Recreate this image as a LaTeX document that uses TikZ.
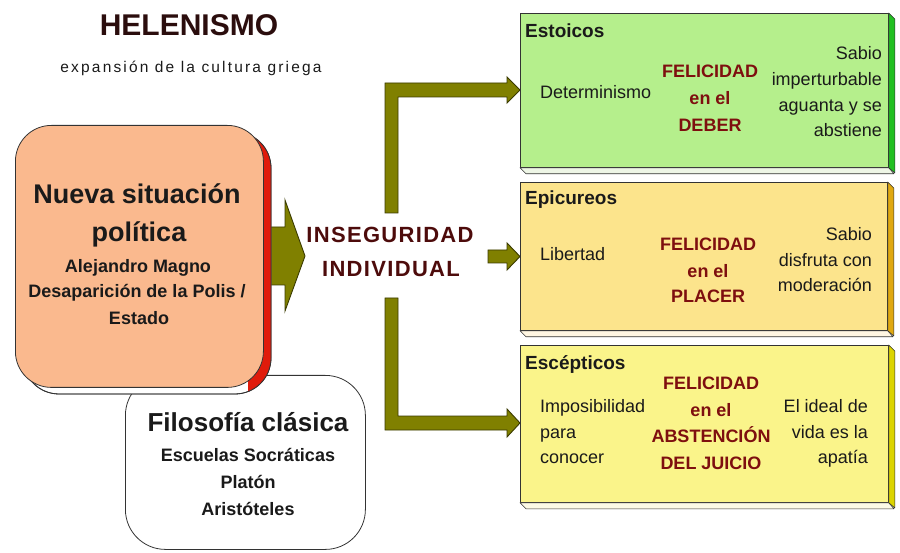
\documentclass[tikz,border=0pt]{standalone}
\usepackage{fontspec}
\setmainfont{Liberation Sans}
\newfontfamily\subfont[LetterSpace=14]{Liberation Sans}
\newfontfamily\insfont[LetterSpace=6]{Liberation Sans}
\definecolor{peach}{HTML}{FAB98E}
\definecolor{redside}{HTML}{E01B0B}
\definecolor{olivefill}{HTML}{808000}
\definecolor{olivedraw}{HTML}{3A3A00}
\definecolor{maroonink}{HTML}{4D0B0B}
\definecolor{titleink}{HTML}{2B0D0D}
\definecolor{felred}{HTML}{7E0F0F}
\definecolor{greenface}{HTML}{B5EF8C}
\definecolor{greenside}{HTML}{22C022}
\definecolor{greenbot}{HTML}{EEF6E6}
\definecolor{epiface}{HTML}{FCE48C}
\definecolor{episide}{HTML}{E0A810}
\definecolor{epibot}{HTML}{FFF6E2}
\definecolor{escface}{HTML}{FAF48A}
\definecolor{escside}{HTML}{DCD400}
\definecolor{escbot}{HTML}{FCFAE6}
\definecolor{edge}{HTML}{333333}
\definecolor{ink}{HTML}{1A1A1A}
\begin{document}
\begin{tikzpicture}[x=1pt,y=-1pt,
  lbl/.style={inner sep=0pt, anchor=base, text=ink},
  lblL/.style={lbl, anchor=base west},
  lblR/.style={lbl, anchor=base east},
  big/.style={font=\bfseries\fontsize{27}{30}\selectfont},
  mid/.style={font=\bfseries\fontsize{18}{21}\selectfont},
  head/.style={font=\bfseries\fontsize{19}{22}\selectfont},
  reg/.style={font=\fontsize{18}{21}\selectfont},
  fel/.style={lbl, text=felred, font=\bfseries\fontsize{18}{21}\selectfont},
  blockarrow/.style={fill=olivefill, draw=olivedraw, line width=0.9pt, line join=miter},
  face/.style={draw=edge, line width=0.8pt, inner sep=0pt, anchor=north west},
  slab/.style={draw=edge, line width=0.6pt, line join=round},
]
\useasboundingbox (0,0) rectangle (900,553);

% titles
\node[lbl, text=titleink, font=\bfseries\fontsize{30}{36}\selectfont] (hel) at (189,36) {HELENISMO};
\node[lbl, font=\subfont\fontsize{15.5}{18}\selectfont] (sub) at (191,73) {expansión de la cultura griega};

% Filosofia clasica box (behind)
\node[draw=edge, line width=0.8pt, fill=white, rounded corners=40pt, minimum width=240pt, minimum height=174pt, anchor=north west, inner sep=0pt] (filo) at (125,375) {};

% big arrow
\filldraw[blockarrow] (262,227) -- (285,227) -- (285,200) -- (305,256) -- (285,311) -- (285,285) -- (262,285) -- cycle;

% orange 3D box
\begin{scope}[shift={(8,7)}]
  \filldraw[fill=white, draw=edge, line width=0.8pt, rounded corners=36pt] (15,125) rectangle (263,387);
  \begin{scope}
    \clip (240,100) rectangle (300,420);
    \fill[redside, rounded corners=36pt] (15,125) rectangle (263,387);
  \end{scope}
  \draw[edge, line width=0.8pt, rounded corners=36pt] (15,125) rectangle (263,387);
\end{scope}
\node[draw=edge, line width=0.8pt, fill=peach, rounded corners=36pt, minimum width=248pt, minimum height=262pt, anchor=north west, inner sep=0pt] (polit) at (15,125) {};

\node[lbl, big] (p1) at (137,204) {Nueva situación};
\node[lbl, big] (p2) at (139,242) {política};
\node[lbl, mid] (p3) at (138,273) {Alejandro Magno};
\node[lbl, mid] (p4) at (137,298) {Desaparición de la Polis /};
\node[lbl, mid] (p5) at (139,325) {Estado};

\node[lbl, font=\bfseries\fontsize{26}{30}\selectfont] (f1) at (248,431) {Filosofía clásica};
\node[lbl, mid] (f2) at (248,461) {Escuelas Socráticas};
\node[lbl, mid] (f3) at (248,488) {Platón};
\node[lbl, mid] (f4) at (248,515) {Aristóteles};

% inseguridad
\node[lbl, text=maroonink, font=\insfont\bfseries\fontsize{22}{26}\selectfont] (ins1) at (390,243) {INSEGURIDAD};
\node[lbl, text=maroonink, font=\insfont\bfseries\fontsize{22}{26}\selectfont] (ins2) at (391,277) {INDIVIDUAL};

% elbow arrows
\filldraw[blockarrow] (385,213) -- (385,83) -- (507,83) -- (507,77) -- (520,90) -- (507,103) -- (507,97) -- (398,97) -- (398,213) -- cycle;
\filldraw[blockarrow] (488,250) -- (507,250) -- (507,243) -- (520,256.5) -- (507,270) -- (507,263) -- (488,263) -- cycle;
\filldraw[blockarrow] (385,298) -- (385,430) -- (507,430) -- (507,437) -- (520,423) -- (507,409) -- (507,416) -- (398,416) -- (398,298) -- cycle;

% Estoicos
\node[face, fill=greenface, minimum width=368pt, minimum height=154pt] (esto) at (520,13) {};
\filldraw[slab, fill=greenbot] (esto.south west) -- ++(6,6) -- ++(368,0) -- (esto.south east) -- cycle;
\filldraw[slab, fill=greenside] (esto.north east) -- ++(6,6) -- ++(0,154) -- (esto.south east) -- cycle;
\node[lblL, head] (e0) at (525,38) {Estoicos};
\node[lblL, reg] (e1) at (540,99) {Determinismo};
\node[fel] (e2) at (710,78) {FELICIDAD};
\node[fel] (e3) at (710,105) {en el};
\node[fel] (e4) at (710,132) {DEBER};
\node[lblR, reg] (e5) at (882,60) {Sabio};
\node[lblR, reg] (e6) at (882,86) {imperturbable};
\node[lblR, reg] (e7) at (882,112) {aguanta y se};
\node[lblR, reg] (e8) at (882,137) {abstiene};

% Epicureos
\node[face, fill=epiface, minimum width=367pt, minimum height=148pt] (epi) at (520,182) {};
\filldraw[slab, fill=epibot] (epi.south west) -- ++(6,6) -- ++(367,0) -- (epi.south east) -- cycle;
\filldraw[slab, fill=episide] (epi.north east) -- ++(6,6) -- ++(0,148) -- (epi.south east) -- cycle;
\node[lblL, head] (c0) at (525,205) {Epicureos};
\node[lblL, reg] (c1) at (540,261) {Libertad};
\node[fel] (c2) at (708,251) {FELICIDAD};
\node[fel] (c3) at (708,278) {en el};
\node[fel] (c4) at (708,303) {PLACER};
\node[lblR, reg] (c5) at (872,241) {Sabio};
\node[lblR, reg] (c6) at (872,267) {disfruta con};
\node[lblR, reg] (c7) at (872,292) {moderación};

% Escepticos
\node[face, fill=escface, minimum width=368pt, minimum height=157pt] (esc) at (520,345) {};
\filldraw[slab, fill=escbot] (esc.south west) -- ++(6,6) -- ++(368,0) -- (esc.south east) -- cycle;
\filldraw[slab, fill=escside] (esc.north east) -- ++(6,6) -- ++(0,157) -- (esc.south east) -- cycle;
\node[lblL, head] (s0) at (525,370) {Escépticos};
\node[lblL, reg] (s1) at (540,413) {Imposibilidad};
\node[lblL, reg] (s2) at (540,438) {para};
\node[lblL, reg] (s3) at (540,463) {conocer};
\node[fel] (s4) at (711,389) {FELICIDAD};
\node[fel] (s5) at (711,417) {en el};
\node[fel] (s6) at (711,442) {ABSTENCIÓN};
\node[fel] (s7) at (711,469) {DEL JUICIO};
\node[lblR, reg] (s8) at (868,413) {El ideal de};
\node[lblR, reg] (s9) at (868,438) {vida es la};
\node[lblR, reg] (s10) at (868,463) {apatía};
\end{tikzpicture}
\end{document}
